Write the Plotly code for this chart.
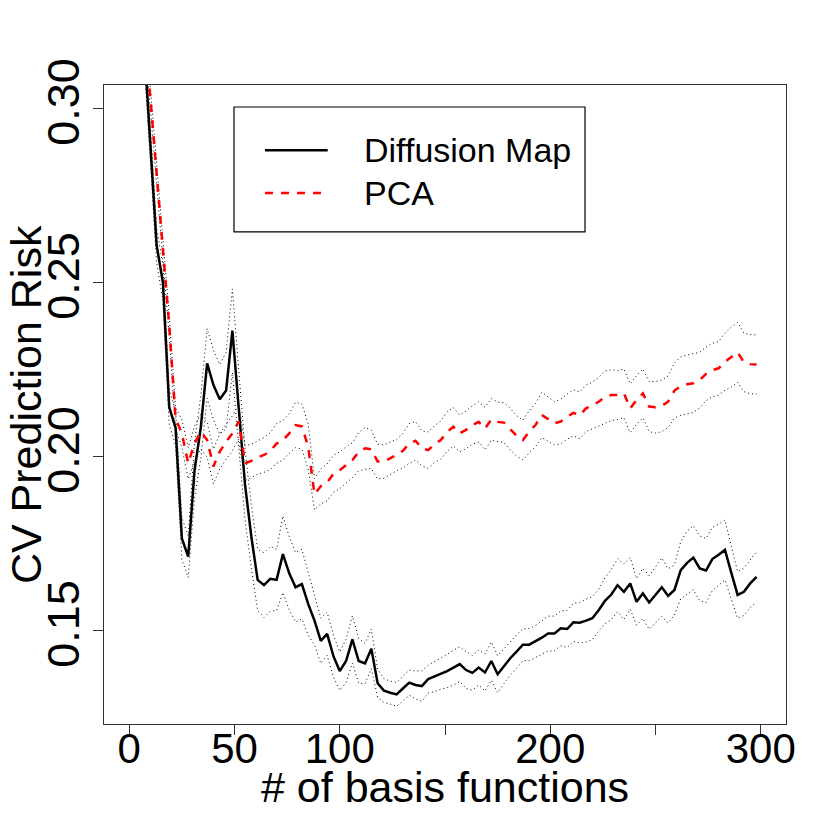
import plotly.graph_objects as go

# number of basis functions (x) -- every 3rd value from 1 to 298
n_basis = list(range(1, 300, 3))

# CV prediction risk, diffusion map basis
risk_dm = [
    0.360, 0.340, 0.319, 0.290, 0.2608, 0.2500, 0.2142, 0.2083, 0.1765, 0.1713,
    0.1960, 0.2085, 0.2268, 0.2206, 0.2165, 0.2190, 0.2362, 0.2140, 0.1920, 0.1770,
    0.1646, 0.1631, 0.1649, 0.1646, 0.1720, 0.1665, 0.1625, 0.1634, 0.1577, 0.1529,
    0.1471, 0.1491, 0.1427, 0.1384, 0.1413, 0.1475, 0.1413, 0.1406, 0.1448, 0.1349,
    0.1328, 0.1322, 0.1317, 0.1334, 0.1351, 0.1344, 0.1341, 0.1361, 0.1368, 0.1377,
    0.1384, 0.1394, 0.1404, 0.1387, 0.1379, 0.1394, 0.1380, 0.1413, 0.1375, 0.1398,
    0.1421, 0.1440, 0.1460, 0.1460, 0.1469, 0.1480, 0.1492, 0.1492, 0.1507, 0.1505,
    0.1524, 0.1523, 0.1529, 0.1536, 0.1559, 0.1586, 0.1604, 0.1631, 0.1612, 0.1636,
    0.1583, 0.1607, 0.1581, 0.1603, 0.1625, 0.1600, 0.1617, 0.1674, 0.1695, 0.1710,
    0.1679, 0.1673, 0.1706, 0.1718, 0.1732, 0.1667, 0.1603, 0.1612, 0.1636, 0.1655,
]
se_dm = [
    0.0050, 0.0050, 0.0050, 0.0050, 0.0050, 0.0050, 0.0050, 0.0050, 0.0060, 0.0060,
    0.0080, 0.0090, 0.0100, 0.0100, 0.0100, 0.0110, 0.0120, 0.0110, 0.0100, 0.0090,
    0.0088, 0.0093, 0.0093, 0.0088, 0.0110, 0.0105, 0.0100, 0.0100, 0.0090, 0.0070,
    0.0065, 0.0062, 0.0060, 0.0055, 0.0062, 0.0068, 0.0064, 0.0058, 0.0057, 0.0040,
    0.0034, 0.0033, 0.0034, 0.0035, 0.0036, 0.0040, 0.0044, 0.0040, 0.0043, 0.0045,
    0.0048, 0.0050, 0.0050, 0.0053, 0.0050, 0.0050, 0.0053, 0.0055, 0.0053, 0.0050,
    0.0048, 0.0048, 0.0046, 0.0046, 0.0046, 0.0048, 0.0050, 0.0050, 0.0050, 0.0053,
    0.0055, 0.0058, 0.0062, 0.0062, 0.0060, 0.0066, 0.0072, 0.0076, 0.0080, 0.0074,
    0.0067, 0.0072, 0.0077, 0.0080, 0.0084, 0.0078, 0.0072, 0.0082, 0.0091, 0.0092,
    0.0093, 0.0092, 0.0091, 0.0088, 0.0086, 0.0076, 0.0067, 0.0068, 0.0069, 0.0072,
]

# CV prediction risk, PCA basis
risk_pca = [
    0.370, 0.345, 0.322, 0.3033, 0.2813, 0.2597, 0.2376, 0.2110, 0.2067, 0.1981,
    0.2038, 0.2072, 0.2048, 0.1972, 0.2015, 0.2043, 0.2067, 0.2101, 0.1981, 0.1988,
    0.1998, 0.2005, 0.2016, 0.2038, 0.2047, 0.2067, 0.2091, 0.2087, 0.2029, 0.1892,
    0.1915, 0.1926, 0.1951, 0.1961, 0.1976, 0.1990, 0.2014, 0.2024, 0.2021, 0.1986,
    0.1986, 0.1995, 0.2005, 0.2017, 0.2038, 0.2046, 0.2024, 0.2019, 0.2036, 0.2048,
    0.2072, 0.2086, 0.2067, 0.2077, 0.2091, 0.2100, 0.2081, 0.2107, 0.2100, 0.2098,
    0.2079, 0.2060, 0.2048, 0.2072, 0.2091, 0.2120, 0.2108, 0.2096, 0.2101, 0.2115,
    0.2126, 0.2119, 0.2139, 0.2147, 0.2158, 0.2172, 0.2177, 0.2177, 0.2182, 0.2139,
    0.2163, 0.2182, 0.2144, 0.2142, 0.2146, 0.2158, 0.2190, 0.2203, 0.2208, 0.2211,
    0.2220, 0.2238, 0.2249, 0.2254, 0.2273, 0.2286, 0.2300, 0.2271, 0.2266, 0.2265,
]
se_pca = [
    0.0030, 0.0030, 0.0030, 0.0030, 0.0030, 0.0030, 0.0030, 0.0030, 0.0040, 0.0045,
    0.0050, 0.0050, 0.0050, 0.0050, 0.0050, 0.0050, 0.0050, 0.0050, 0.0050, 0.0048,
    0.0048, 0.0050, 0.0053, 0.0057, 0.0057, 0.0057, 0.0065, 0.0065, 0.0065, 0.0045,
    0.0050, 0.0053, 0.0053, 0.0053, 0.0052, 0.0050, 0.0055, 0.0060, 0.0055, 0.0050,
    0.0048, 0.0046, 0.0045, 0.0050, 0.0057, 0.0055, 0.0050, 0.0052, 0.0053, 0.0055,
    0.0057, 0.0055, 0.0053, 0.0054, 0.0055, 0.0058, 0.0061, 0.0060, 0.0057, 0.0057,
    0.0060, 0.0058, 0.0057, 0.0060, 0.0062, 0.0065, 0.0064, 0.0062, 0.0064, 0.0065,
    0.0066, 0.0067, 0.0067, 0.0067, 0.0070, 0.0074, 0.0073, 0.0070, 0.0070, 0.0070,
    0.0070, 0.0070, 0.0072, 0.0074, 0.0074, 0.0074, 0.0079, 0.0084, 0.0084, 0.0084,
    0.0080, 0.0077, 0.0077, 0.0077, 0.0082, 0.0086, 0.0086, 0.0084, 0.0085, 0.0085,
]

x_ticks = [0, 50, 100, 150, 200, 250, 300]
x_ticktext = ["0", "50", "100", "", "200", "", "300"]
y_ticks = [0.15, 0.20, 0.25, 0.30]
y_ticktext = ["0.15", "0.20", "0.25", "0.30"]

FONT = "Liberation Sans, Arial, Helvetica, sans-serif"

fig = go.Figure()

# dotted +/- 1 se bands
for risk, se in [(risk_dm, se_dm), (risk_pca, se_pca)]:
    for sign in (1, -1):
        fig.add_trace(go.Scatter(
            x=n_basis, y=[r + sign * s for r, s in zip(risk, se)],
            mode="lines", line=dict(color="black", width=1, dash="1px,3px"),
            showlegend=False, hoverinfo="skip",
        ))

fig.add_trace(go.Scatter(
    x=n_basis, y=risk_dm, mode="lines", name="Diffusion Map",
    line=dict(color="black", width=2.5), showlegend=False,
))
fig.add_trace(go.Scatter(
    x=n_basis, y=risk_pca, mode="lines", name="PCA",
    line=dict(color="#ff0000", width=2.5, dash="8px,8px"), showlegend=False,
))

# legend box drawn like R's legend()
fig.add_shape(type="rect", xref="paper", yref="paper",
              x0=0.1906, x1=0.7053, y0=0.770, y1=0.9656,
              line=dict(color="black", width=1.2), fillcolor="white", layer="above")
fig.add_shape(type="line", xref="paper", yref="paper",
              x0=0.236, x1=0.328, y0=0.898, y1=0.898,
              line=dict(color="black", width=2.5))
fig.add_shape(type="line", xref="paper", yref="paper",
              x0=0.236, x1=0.326, y0=0.831, y1=0.831,
              line=dict(color="#ff0000", width=2.5, dash="8px,8px"))
for label, yy in [("Diffusion Map", 0.898), ("PCA", 0.831)]:
    fig.add_annotation(text=label, xref="paper", yref="paper", x=0.378, y=yy,
                       xanchor="left", yanchor="middle", showarrow=False,
                       font=dict(family=FONT, size=34, color="black"))

# axis titles
fig.add_annotation(text="# of basis functions", xref="paper", yref="paper",
                   x=0.5, y=-0.099, xanchor="center", yanchor="middle", showarrow=False,
                   font=dict(family=FONT, size=43, color="black"))
fig.add_annotation(text="CV Prediction Risk", xref="paper", yref="paper",
                   x=-0.115, y=0.50, xanchor="center", yanchor="middle", showarrow=False,
                   textangle=-90, font=dict(family=FONT, size=43, color="black"))

axis_common = dict(
    showgrid=False, zeroline=False, showline=True, mirror=True,
    linecolor="#333333", linewidth=1, ticks="outside", ticklen=10,
    tickcolor="#333333", tickwidth=1, automargin=False,
)
fig.update_xaxes(
    range=[-12, 312], tickvals=x_ticks, ticktext=x_ticktext,
    tickfont=dict(family=FONT, size=42, color="black"), ticklabelstandoff=-22,
    **axis_common,
)
fig.update_yaxes(
    range=[0.1232, 0.3068], tickvals=y_ticks, ticktext=y_ticktext, tickangle=-90,
    tickfont=dict(family=FONT, size=45, color="black"), ticklabelstandoff=-4,
    **axis_common,
)
# the page body adds an 8px offset, so margins are shifted to compensate
fig.update_layout(
    width=830, height=830,
    margin=dict(l=96, r=52, t=77, b=114),
    plot_bgcolor="white", paper_bgcolor="white",
)

fig.write_html("out.html")
